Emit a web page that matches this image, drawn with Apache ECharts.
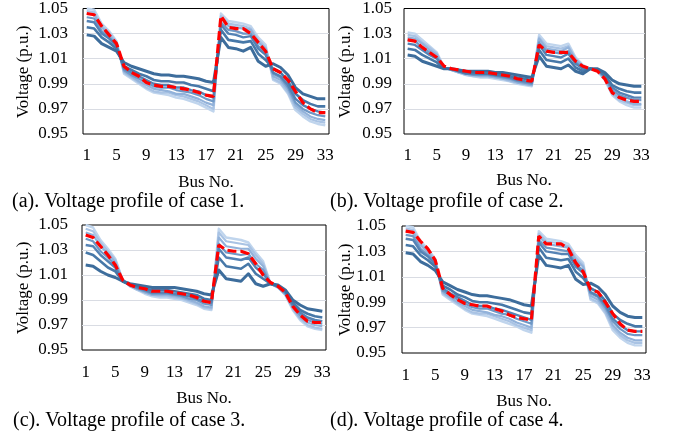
<!DOCTYPE html>
<html><head><meta charset="utf-8">
<script src="https://cdn.jsdelivr.net/npm/echarts@6/dist/echarts.min.js"></script>
<style>html,body{margin:0;padding:0;background:#fff}#c{width:673px;height:438px}</style>
</head><body><div id="c"></div>
<script>
// Bus numbers (categories)
const busNo = ['1','2','3','4','5','6','7','8','9','10','11','12','13','14','15','16','17','18','19','20','21','22','23','24','25','26','27','28','29','30','31','32','33'];

// Case 1 — voltage profiles (dark -> light), plus highlighted (red dashed) profile
const caseA_s1 = [1.029,1.028,1.022,1.019,1.016,1.007,1.004,1.002,1.000,0.998,0.997,0.997,0.996,0.996,0.995,0.994,0.992,0.991,1.027,1.019,1.018,1.016,1.019,1.008,1.004,1.006,1.003,0.997,0.987,0.982,0.980,0.978,0.978];
const caseA_s2 = [1.035,1.034,1.027,1.023,1.018,1.004,1.001,0.998,0.996,0.993,0.992,0.992,0.991,0.991,0.989,0.988,0.986,0.984,1.033,1.025,1.024,1.023,1.024,1.014,1.009,1.002,0.999,0.992,0.982,0.977,0.974,0.972,0.972];
const caseA_s3 = [1.040,1.039,1.030,1.026,1.020,1.002,0.999,0.996,0.993,0.990,0.989,0.989,0.987,0.987,0.985,0.984,0.981,0.979,1.037,1.030,1.029,1.027,1.028,1.018,1.013,0.999,0.996,0.989,0.978,0.973,0.970,0.968,0.967];
const caseA_s4 = [1.043,1.042,1.032,1.027,1.021,1.001,0.997,0.994,0.991,0.988,0.987,0.987,0.985,0.984,0.983,0.981,0.978,0.976,1.039,1.033,1.032,1.030,1.030,1.020,1.015,0.998,0.995,0.987,0.975,0.970,0.967,0.965,0.964];
const caseA_s5 = [1.046,1.045,1.035,1.029,1.022,1.000,0.996,0.992,0.989,0.986,0.985,0.984,0.982,0.982,0.980,0.978,0.975,0.973,1.042,1.036,1.035,1.034,1.033,1.023,1.018,0.996,0.993,0.985,0.973,0.968,0.964,0.962,0.961];
const caseA_s6 = [1.048,1.047,1.036,1.031,1.023,0.999,0.995,0.991,0.987,0.984,0.983,0.983,0.981,0.980,0.978,0.976,0.973,0.970,1.044,1.038,1.037,1.036,1.034,1.025,1.019,0.994,0.991,0.983,0.971,0.966,0.962,0.960,0.959];
const caseA_s7 = [1.050,1.049,1.038,1.032,1.024,0.998,0.994,0.990,0.986,0.983,0.982,0.981,0.979,0.978,0.976,0.974,0.971,0.968,1.046,1.040,1.039,1.038,1.036,1.027,1.021,0.993,0.990,0.982,0.969,0.964,0.960,0.958,0.957];
const caseA_red = [1.046,1.045,1.036,1.029,1.022,1.004,0.999,0.996,0.991,0.989,0.988,0.988,0.987,0.986,0.985,0.983,0.981,0.980,1.044,1.035,1.034,1.034,1.030,1.023,1.016,1.002,0.999,0.993,0.984,0.975,0.970,0.967,0.967];

// Case 2
const caseB_s1 = [1.013,1.012,1.008,1.006,1.004,1.002,1.002,1.001,1.000,1.000,1.000,1.000,0.999,0.999,0.998,0.997,0.996,0.995,1.012,1.004,1.003,1.002,1.005,1.000,0.998,1.002,1.002,0.999,0.993,0.990,0.989,0.988,0.988];
const caseB_s2 = [1.018,1.017,1.013,1.010,1.007,1.002,1.002,1.000,0.999,0.999,0.998,0.998,0.997,0.997,0.996,0.995,0.994,0.993,1.017,1.009,1.008,1.007,1.010,1.003,1.000,1.002,1.001,0.997,0.989,0.986,0.984,0.983,0.983];
const caseB_s3 = [1.022,1.021,1.017,1.013,1.010,1.002,1.002,1.000,0.998,0.998,0.998,0.998,0.997,0.996,0.995,0.993,0.992,0.991,1.021,1.013,1.012,1.011,1.014,1.006,1.002,1.002,1.001,0.996,0.987,0.983,0.981,0.979,0.979];
const caseB_s4 = [1.025,1.024,1.019,1.015,1.011,1.003,1.001,1.000,0.998,0.997,0.997,0.997,0.996,0.995,0.994,0.992,0.991,0.990,1.023,1.016,1.015,1.014,1.016,1.007,1.003,1.002,1.001,0.995,0.985,0.981,0.979,0.977,0.977];
const caseB_s5 = [1.027,1.026,1.022,1.017,1.013,1.003,1.001,0.999,0.998,0.997,0.996,0.996,0.995,0.994,0.993,0.991,0.990,0.989,1.026,1.018,1.017,1.016,1.019,1.009,1.004,1.002,1.000,0.994,0.983,0.979,0.976,0.974,0.974];
const caseB_s6 = [1.029,1.028,1.023,1.019,1.014,1.003,1.001,0.999,0.997,0.996,0.996,0.996,0.995,0.994,0.992,0.991,0.990,0.989,1.027,1.020,1.019,1.018,1.020,1.010,1.004,1.002,1.000,0.994,0.982,0.977,0.975,0.973,0.973];
const caseB_s7 = [1.031,1.030,1.025,1.020,1.015,1.003,1.001,0.999,0.997,0.996,0.995,0.995,0.994,0.993,0.992,0.990,0.989,0.988,1.029,1.022,1.021,1.020,1.022,1.011,1.005,1.002,1.000,0.993,0.981,0.976,0.973,0.971,0.971];
const caseB_red = [1.025,1.024,1.019,1.015,1.011,1.004,1.002,1.001,1.000,0.999,0.999,0.999,0.998,0.997,0.996,0.994,0.993,0.992,1.021,1.016,1.015,1.015,1.015,1.008,1.004,1.002,1.000,0.994,0.983,0.979,0.977,0.976,0.976];

// Case 3
const caseC_s1 = [1.018,1.017,1.013,1.010,1.008,1.005,1.003,1.002,1.001,1.000,1.000,1.000,1.000,0.999,0.998,0.997,0.995,0.994,1.014,1.007,1.006,1.005,1.011,1.003,1.001,1.003,1.002,0.998,0.990,0.986,0.983,0.982,0.981];
const caseC_s2 = [1.028,1.026,1.021,1.016,1.013,1.005,1.002,1.001,0.999,0.998,0.998,0.998,0.997,0.996,0.995,0.994,0.991,0.990,1.024,1.017,1.016,1.015,1.019,1.011,1.007,1.003,1.001,0.997,0.988,0.982,0.979,0.977,0.976];
const caseC_s3 = [1.034,1.033,1.026,1.021,1.016,1.005,1.002,1.000,0.998,0.996,0.996,0.996,0.995,0.994,0.993,0.991,0.989,0.988,1.031,1.024,1.023,1.022,1.024,1.016,1.011,1.003,1.001,0.996,0.986,0.980,0.976,0.974,0.973];
const caseC_s4 = [1.039,1.037,1.029,1.024,1.018,1.006,1.002,0.999,0.997,0.995,0.995,0.995,0.994,0.993,0.991,0.990,0.987,0.986,1.035,1.028,1.027,1.026,1.027,1.019,1.014,1.003,1.001,0.995,0.985,0.978,0.974,0.972,0.971];
const caseC_s5 = [1.044,1.042,1.033,1.027,1.020,1.006,1.001,0.999,0.996,0.994,0.994,0.994,0.993,0.992,0.990,0.988,0.985,0.984,1.040,1.033,1.032,1.031,1.031,1.023,1.017,1.003,1.000,0.995,0.984,0.976,0.972,0.970,0.969];
const caseC_s6 = [1.047,1.045,1.036,1.029,1.022,1.006,1.001,0.998,0.996,0.994,0.993,0.993,0.992,0.991,0.989,0.987,0.984,0.983,1.044,1.037,1.036,1.035,1.034,1.026,1.019,1.003,1.000,0.994,0.983,0.975,0.970,0.968,0.967];
const caseC_s7 = [1.050,1.048,1.038,1.031,1.023,1.006,1.001,0.998,0.995,0.993,0.992,0.992,0.991,0.990,0.988,0.986,0.983,0.982,1.047,1.040,1.039,1.038,1.036,1.028,1.021,1.003,1.000,0.994,0.982,0.974,0.969,0.967,0.966];
const caseC_red = [1.042,1.040,1.033,1.026,1.018,1.006,1.002,1.000,0.999,0.997,0.997,0.997,0.996,0.995,0.994,0.992,0.989,0.988,1.034,1.030,1.029,1.029,1.027,1.019,1.010,1.004,1.001,0.996,0.985,0.978,0.973,0.972,0.972];

// Case 4
const caseD_s1 = [1.029,1.028,1.022,1.019,1.015,1.006,1.003,1.000,0.998,0.996,0.995,0.995,0.994,0.993,0.992,0.990,0.988,0.987,1.027,1.019,1.018,1.017,1.019,1.008,1.004,1.005,1.002,0.996,0.987,0.982,0.979,0.978,0.978];
const caseD_s2 = [1.035,1.034,1.027,1.023,1.018,1.003,1.000,0.996,0.994,0.991,0.990,0.990,0.989,0.988,0.986,0.984,0.982,0.981,1.033,1.025,1.024,1.023,1.024,1.014,1.009,1.001,0.998,0.991,0.981,0.976,0.973,0.971,0.971];
const caseD_s3 = [1.040,1.039,1.030,1.026,1.020,1.001,0.997,0.994,0.991,0.988,0.987,0.987,0.985,0.984,0.982,0.980,0.978,0.976,1.037,1.030,1.029,1.028,1.028,1.018,1.013,0.998,0.995,0.988,0.977,0.972,0.968,0.967,0.967];
const caseD_s4 = [1.043,1.042,1.032,1.027,1.021,0.999,0.996,0.992,0.989,0.986,0.985,0.985,0.983,0.981,0.980,0.977,0.975,0.973,1.039,1.033,1.032,1.031,1.030,1.020,1.015,0.997,0.994,0.986,0.975,0.969,0.965,0.964,0.964];
const caseD_s5 = [1.046,1.045,1.035,1.029,1.022,0.998,0.994,0.990,0.987,0.984,0.983,0.982,0.980,0.979,0.977,0.974,0.972,0.970,1.042,1.036,1.035,1.034,1.033,1.023,1.018,0.995,0.992,0.984,0.972,0.966,0.962,0.960,0.960];
const caseD_s6 = [1.048,1.047,1.036,1.031,1.023,0.997,0.993,0.989,0.985,0.982,0.981,0.981,0.979,0.977,0.975,0.972,0.970,0.968,1.044,1.038,1.037,1.036,1.034,1.025,1.019,0.993,0.990,0.982,0.970,0.964,0.960,0.958,0.958];
const caseD_s7 = [1.050,1.049,1.038,1.032,1.024,0.996,0.992,0.988,0.984,0.981,0.980,0.979,0.977,0.975,0.973,0.971,0.968,0.966,1.046,1.040,1.039,1.038,1.036,1.027,1.021,0.992,0.989,0.981,0.968,0.962,0.958,0.956,0.956];
const caseD_red = [1.046,1.045,1.038,1.032,1.023,1.001,0.996,0.992,0.989,0.988,0.987,0.987,0.985,0.983,0.980,0.978,0.977,0.976,1.042,1.036,1.036,1.036,1.032,1.021,1.014,1.000,0.998,0.990,0.981,0.973,0.968,0.967,0.967];

// Axis settings and text
const yMin = 0.95, yMax = 1.05, yStep = 0.02;
const yName = 'Voltage (p.u.)';
const xName = 'Bus No.';
const captions = ['(a). Voltage profile of case 1.', '(b). Voltage profile of case 2.', '(c). Voltage profile of case 3.', '(d). Voltage profile of case 4.'];

const panels = [
  {lines:[caseA_s1,caseA_s2,caseA_s3,caseA_s4,caseA_s5,caseA_s6,caseA_s7], red:caseA_red,
   grid:{left:83,top:7,width:246,height:127}, yMargin:15, xMargin:13,
   yNamePos:[24,72], xNamePos:[206,183], capPos:[12,202]},
  {lines:[caseB_s1,caseB_s2,caseB_s3,caseB_s4,caseB_s5,caseB_s6,caseB_s7], red:caseB_red,
   grid:{left:404,top:7,width:241,height:127}, yMargin:12, xMargin:13,
   yNamePos:[346,72], xNamePos:[524,181], capPos:[330,202]},
  {lines:[caseC_s1,caseC_s2,caseC_s3,caseC_s4,caseC_s5,caseC_s6,caseC_s7], red:caseC_red,
   grid:{left:82,top:225,width:244,height:125}, yMargin:14, xMargin:14,
   yNamePos:[24,288], xNamePos:[204,399], capPos:[13,421]},
  {lines:[caseD_s1,caseD_s2,caseD_s3,caseD_s4,caseD_s5,caseD_s6,caseD_s7], red:caseD_red,
   grid:{left:402,top:226,width:244,height:127}, yMargin:16, xMargin:14,
   yNamePos:[346,290], xNamePos:[524,402], capPos:[330,421]}
];

const blues = ['#3d6d9c','#4778a8','#5583b5','#6f98c6','#92b2da','#a9c3e4','#c0d5ed'];
const widths = [3,2.6,2.4,2.2,2.2,2.2,2.4];
const FONT = 'Times New Roman, Liberation Serif, serif';

const grids = [], xAxes = [], yAxes = [], series = [], graphic = [];
panels.forEach((p, i) => {
  grids.push(Object.assign({show:true, borderColor:'#000', borderWidth:1, backgroundColor:'#fff', containLabel:false}, p.grid));
  xAxes.push({type:'category', gridIndex:i, data:busNo, boundaryGap:true,
    axisLine:{show:false}, axisTick:{show:false}, splitLine:{show:false},
    axisLabel:{interval:3, margin:p.xMargin, color:'#000', fontFamily:FONT, fontSize:17}});
  yAxes.push({type:'value', gridIndex:i, min:yMin, max:yMax, interval:yStep,
    axisLine:{show:false}, axisTick:{show:false},
    splitLine:{show:true, showMinLine:false, showMaxLine:false, lineStyle:{color:'#d9dce3', width:1}},
    axisLabel:{margin:p.yMargin, color:'#000', fontFamily:FONT, fontSize:17, formatter:v => v.toFixed(2)}});
  for (let k = p.lines.length - 1; k >= 0; k--) {
    series.push({type:'line', xAxisIndex:i, yAxisIndex:i, data:p.lines[k], symbol:'none', silent:true,
      lineStyle:{color:blues[k], width:widths[k], join:'round'}, z:2});
  }
  series.push({type:'line', xAxisIndex:i, yAxisIndex:i, data:p.red, symbol:'none', silent:true,
    lineStyle:{color:'#ff0000', width:3.2, type:[9,4]}, z:3});
  graphic.push({type:'text', x:p.yNamePos[0], y:p.yNamePos[1], rotation:Math.PI/2,
    style:{text:yName, fill:'#000', fontFamily:FONT, fontSize:17, align:'center', verticalAlign:'middle'}});
  graphic.push({type:'text', x:p.xNamePos[0], y:p.xNamePos[1],
    style:{text:xName, fill:'#000', fontFamily:FONT, fontSize:17, align:'center', verticalAlign:'middle'}});
  graphic.push({type:'text', x:p.capPos[0], y:p.capPos[1],
    style:{text:captions[i], fill:'#000', fontFamily:FONT, fontSize:20, align:'left', verticalAlign:'middle'}});
});

const chart = echarts.init(document.getElementById('c'), null, {renderer:'canvas'});
chart.setOption({animation:false, backgroundColor:'#fff', grid:grids, xAxis:xAxes, yAxis:yAxes, series:series, graphic:graphic});
</script>
</body></html>
